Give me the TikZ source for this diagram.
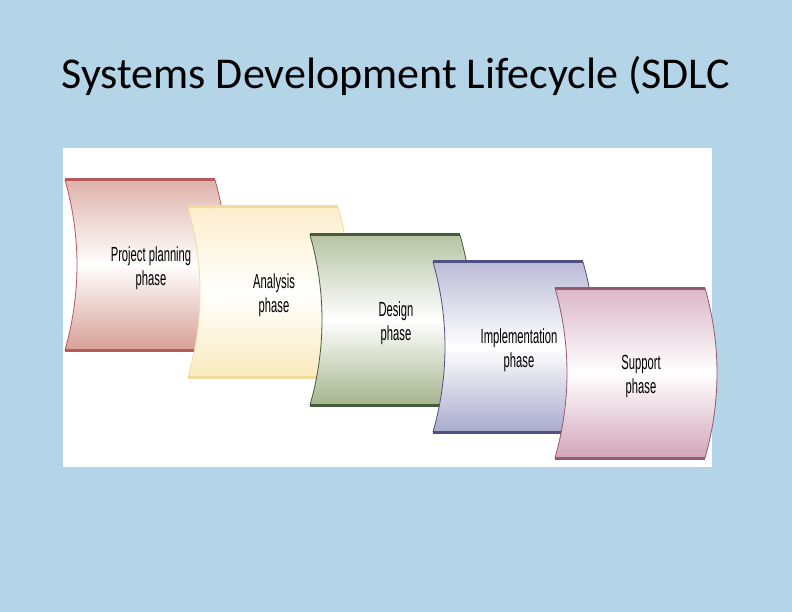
\documentclass[tikz,border=0pt]{standalone}
\usepackage{fontspec}
\setmainfont{Carlito}
\newfontfamily\cardfont{Liberation Sans}
\begin{document}
\begin{tikzpicture}[x=1pt,y=-1pt]
\useasboundingbox (0,0) rectangle (792,612);
\fill[fill={rgb,255:red,180;green,212;blue,232}] (0,0) rectangle (792,612);
\node (title) at (396,76) {\fontsize{44}{48}\selectfont Systems Development Lifecycle (SDLC};
\fill[white] (63,148) rectangle (712,467);
\tikzset{lbl/.style={font=\cardfont\fontsize{17}{20}\selectfont, align=center, xscale=0.66, yscale=1.2}}
\newcommand\card[6]{% L T fill bar name text
  \pgfmathsetmacro\R{#1+150}\pgfmathsetmacro\B{#2+170}
  \shade[top color=#3!80!white, bottom color=#3, middle color=white, draw=#4, line width=0.8pt]
    (#1,#2) .. controls (#1+16,#2+56) and (#1+16,\B-56) .. (#1,\B) -- (\R,\B)
    .. controls (\R+16,\B-56) and (\R+16,#2+56) .. (\R,#2) -- cycle;
  \draw[#4, line width=3pt] (#1,#2) -- (\R,#2);
  \draw[#4, line width=3pt] (#1,\B) -- (\R,\B);
  \node[lbl] (#5) at (#1+86,#2+88) {#6};
}
\definecolor{c1}{RGB}{214,160,150}\definecolor{b1}{RGB}{180,90,90}
\definecolor{c2}{RGB}{250,234,190}\definecolor{b2}{RGB}{240,220,160}
\definecolor{c3}{RGB}{165,180,140}\definecolor{b3}{RGB}{70,90,60}
\definecolor{c4}{RGB}{170,170,205}\definecolor{b4}{RGB}{80,80,130}
\definecolor{c5}{RGB}{210,165,185}\definecolor{b5}{RGB}{150,90,110}
\card{65}{180}{c1}{b1}{p1}{Project planning\\phase}
\card{188}{207}{c2}{b2}{p2}{Analysis\\phase}
\card{310}{235}{c3}{b3}{p3}{Design\\phase}
\card{433}{262}{c4}{b4}{p4}{Implementation\\phase}
\card{555}{288}{c5}{b5}{p5}{Support\\phase}
\end{tikzpicture}
\end{document}
